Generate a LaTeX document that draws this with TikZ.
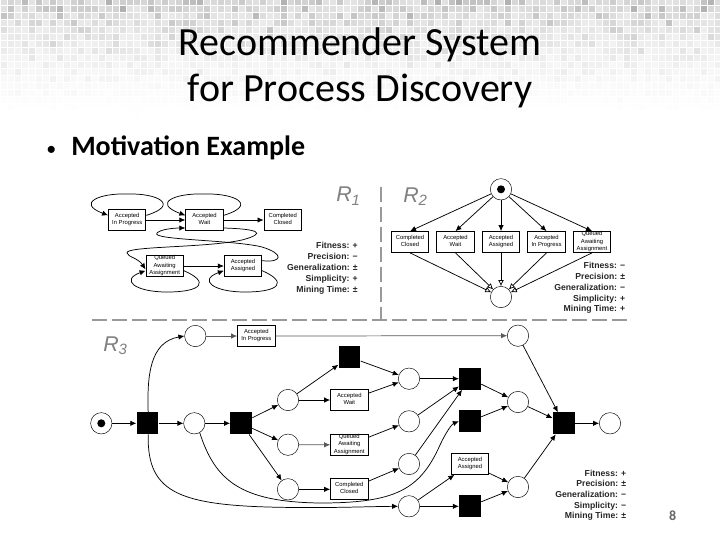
\documentclass[tikz,border=0pt]{standalone}
\usepackage{fontspec}
\setmainfont{Carlito}
\newfontfamily\arialf{Liberation Sans}
\usetikzlibrary{arrows.meta}
\definecolor{dashgrey}{gray}{0.6}
\definecolor{labelgrey}{gray}{0.5}
\tikzset{
  place/.style={circle,draw=black,line width=0.35pt,fill=white,inner sep=0pt,minimum size=16pt},
  trans/.style={rectangle,fill=black,inner sep=0pt,minimum size=16.3pt},
  token/.style={circle,fill=black,inner sep=0pt,minimum size=6pt},
  act/.style={rectangle,draw=black,line width=0.7pt,fill=white,inner sep=0pt,minimum width=28pt,minimum height=15.6pt,
    align=center,font=\arialf\fontsize{4.4}{5.4}\selectfont,
    execute at begin node=\strut,execute at end node=\strut},
  flow/.style={draw=black,line width=0.55pt,-{Latex[length=4.5pt,width=4pt]}},
  openflow/.style={draw=black,line width=0.55pt,-{Latex[length=4.5pt,width=4.4pt,open,fill=white]}},
  greyflow/.style={flow,draw=black!65},
  sep/.style={draw=dashgrey,line width=1.2pt,dash pattern=on 11pt off 4pt},
  metric/.style={anchor=base east,inner sep=0pt,font=\arialf\bfseries\fontsize{6.5}{7}\selectfont,text=black!85},
  modelname/.style={inner sep=0pt,text=labelgrey,font=\arialf\itshape\fontsize{16}{18}\selectfont},
  titleline/.style={anchor=base,inner sep=0pt,font=\fontsize{30}{34}\selectfont,text=black},
  bullet/.style={anchor=base west,inner sep=0pt,font=\fontsize{15}{18}\selectfont,text=black},
  subhead/.style={anchor=base west,inner sep=0pt,font=\bfseries\fontsize{21}{24}\selectfont,text=black},
  pagenum/.style={inner sep=0pt,font=\bfseries\fontsize{10.5}{12}\selectfont,text=black!60},
}
\begin{document}
\begin{tikzpicture}[x=0.75pt,y=-0.75pt]
\useasboundingbox (0,0) rectangle (720,540);
\fill[white] (0,0) rectangle (720,540);
% mosaic background
\pgfmathsetseed{4711}
\foreach \r in {0,...,16}{
  \foreach \c in {0,...,102}{
    \pgfmathsetmacro{\v}{max(0,(1-(\r*7+3)/119))^1.6*(11+rnd*rnd*26)}
    \fill[black!\v] (\c*7+0.5,\r*7-1) rectangle +(6,6);
  }
}
% titles
\node[titleline] (t1) at (360,55) {Recommender System};
\node[titleline] (t2) at (360,101.5) {for Process Discovery};
\node[bullet] (bl) at (46,155) {•};
\node[subhead] (mo) at (71,155) {Motivation Example};
\node[pagenum] (pg) at (672.7,515.5) {8};
% separators
\coordinate (sv1) at (381,187);
\coordinate (sv2) at (381,320);
\coordinate (sh1) at (92,320);
\coordinate (sh2) at (627,320);
\draw[sep] (sv1) -- (sv2);
\draw[sep] (sh1) -- (sh2);
% model names
\node[modelname] (r1) at (348.5,196) {R\textsubscript{1}};
\node[modelname] (r2) at (415.5,196.5) {R\textsubscript{2}};
\node[modelname] (r3) at (115.5,345.5) {R\textsubscript{3}};
% ---------- R1 ----------
\node[act] (a1) at (127.2,220) {Accepted\\In Progress};
\node[act] (a2) at (204.5,220) {Accepted\\Wait};
\node[act] (a3) at (282.7,220) {Completed\\Closed};
\node[act] (a4) at (164.7,266) {Queued\\Awaiting\\Assignment};
\node[act] (a5) at (243,266) {Accepted\\Assigned};
\draw[flow] (a1) -- (a2);
\draw[flow] (a2) -- (a3);
\draw[flow] (a4) -- (a5);
\draw[flow] ([yshift=3.5pt]a1.east) .. controls (180,205) and (158,193) .. (127,194)
  .. controls (100,193) and (76,203) .. ([yshift=3.5pt]a1.west);
\draw[flow] ([yshift=3.5pt]a2.east) .. controls (258,205) and (235,193) .. (204,194)
  .. controls (175,193) and (152,203) .. ([yshift=3.5pt]a2.west);
\draw[flow] ([yshift=-3.5pt]a4.east) .. controls (210,282) and (202,292) .. (167,292)
  .. controls (135,292) and (120,280) .. ([yshift=-3.5pt]a4.west);
\draw[flow] ([yshift=-3.5pt]a5.east) .. controls (288,282) and (280,292) .. (245,292)
  .. controls (213,292) and (198,280) .. ([yshift=-3.5pt]a5.west);
\draw[flow] ([yshift=-6pt]a2.east) .. controls (258,229) and (268,233) .. (242,240)
  .. controls (205,248) and (125,246) .. (127,253) .. controls (128,257) and (138,258) .. ([yshift=-2.5pt]a4.west);
\draw[flow] ([yshift=4pt]a5.east) .. controls (282,263) and (285,254) .. (262,247)
  .. controls (235,240) and (150,240) .. (157,233) .. controls (161,229) and (175,228) .. ([yshift=-6pt]a2.west);
\node[metric] (m11) at (358,248.8) {Fitness: +};
\node[metric] (m12) at (358,259.8) {Precision: −};
\node[metric] (m13) at (358,270.6) {Generalization: ±};
\node[metric] (m14) at (358,281.5) {Simplicity: +};
\node[metric] (m15) at (358,292.3) {Mining Time: ±};
% ---------- R2 ----------
\node[place] (q0) at (501,189.3) {};
\node[token] (q0t) at (q0) {};
\node[place] (q1) at (501,297) {};
\node[act] (b1) at (410,242) {Completed\\Closed};
\node[act] (b2) at (455.5,242) {Accepted\\Wait};
\node[act] (b3) at (501,242) {Accepted\\Assigned};
\node[act] (b4) at (546.5,242) {Accepted\\In Progress};
\node[act] (b5) at (592,242) {Queued\\Awaiting\\Assignment};
\foreach \b in {b1,b2,b3,b4,b5}{
  \draw[flow] (q0) -- (\b.north);
  \draw[openflow] (\b.south) -- (q1);
}
\node[metric] (m21) at (625.5,268.3) {Fitness: −};
\node[metric] (m22) at (625.5,279.2) {Precision: ±};
\node[metric] (m23) at (625.5,290.1) {Generalization: −};
\node[metric] (m24) at (625.5,301) {Simplicity: +};
\node[metric] (m25) at (625.5,311.9) {Mining Time: +};
% ---------- R3 ----------
\node[place] (p0) at (101.3,423.3) {};
\node[token] (p0t) at (p0) {};
\node[trans] (t1a) at (147.5,423.3) {};
\node[place] (pu) at (195.3,336) {};
\node[place] (pm) at (194.3,423.3) {};
\node[act] (c1) at (256.3,336) {Accepted\\In Progress};
\node[trans] (t2a) at (241.2,423.3) {};
\node[place] (pa) at (288,400) {};
\node[place] (pb) at (288,444.7) {};
\node[place] (pc) at (288,489.3) {};
\node[trans] (t3) at (349.5,357) {};
\node[act] (c2) at (349.3,400) {Accepted\\Wait};
\node[act] (c3) at (349.3,444.8) {Queued\\Awaiting\\Assignment};
\node[act] (c4) at (349.3,489.3) {Completed\\Closed};
\node[place] (s1) at (409,378.7) {};
\node[place] (s2) at (409,421.3) {};
\node[place] (s3) at (409,464) {};
\node[place] (s4) at (409,506.3) {};
\node[trans] (u1) at (470,378.7) {};
\node[trans] (u2) at (470,421.3) {};
\node[act] (c5) at (470,464) {Accepted\\Assigned};
\node[trans] (u3) at (470,506.3) {};
\node[place] (v1) at (518,335.7) {};
\node[place] (v2) at (518,402) {};
\node[place] (v3) at (518,487) {};
\node[trans] (w) at (563.7,423.3) {};
\node[place] (pe) at (610,423.3) {};
\draw[flow] (p0) -- (t1a);
\draw[flow] (t1a) -- (pm);
\draw[flow] (pm) -- (t2a);
\draw[flow] ([xshift=0.5pt]t1a.north) .. controls (147,375) and (150,342) .. (pu.west);
\draw[greyflow] (pu) -- (c1);
\draw[greyflow] (c1) -- (v1);
\draw[flow] (t2a) -- (pa);
\draw[flow] (t2a) -- (pb);
\draw[flow] (t2a) -- (pc);
\draw[flow] (pa) -- (t3);
\draw[flow] (pa) -- (c2);
\draw[greyflow] (pb) -- (c3);
\draw[flow] (pc) -- (c4);
\draw[flow] (t3) -- (s1);
\draw[flow] (c2) -- (s1);
\draw[flow] (c3) -- (s2);
\draw[flow] (c4) -- (s3);
\draw[flow] (s1) -- (u1);
\draw[flow] (s2) -- (u1);
\draw[flow] (s3) -- (u1);
\draw[flow] (s4) -- (c5);
\draw[flow] (s4) -- (u3);
\draw[flow] (u1) -- (v2);
\draw[flow] (u2) -- (v2);
\draw[flow] (c5) -- (v3);
\draw[flow] (u3) -- (v3);
\draw[flow] (v1) -- (w);
\draw[flow] (v2) -- (w);
\draw[flow] (v3) -- (w);
\draw[flow] (w) -- (pe);
\draw[flow] ([xshift=0.5pt]t1a.south) .. controls (147,495) and (180,507) .. (300,507.5)
  .. controls (340,507.8) and (370,506.5) .. (s4.west);
\draw[flow] (pm.300) .. controls (215,480) and (240,502) .. (320,503)
  .. controls (395,503) and (420,490) .. (440,445) .. controls (446,432) and (452,424) .. (u2.west);
\node[metric] (m31) at (626.5,476) {Fitness: +};
\node[metric] (m32) at (626.5,486.7) {Precision: ±};
\node[metric] (m33) at (626.5,497.4) {Generalization: −};
\node[metric] (m34) at (626.5,508.1) {Simplicity: −};
\node[metric] (m35) at (626.5,518.9) {Mining Time: ±};
\end{tikzpicture}
\end{document}
